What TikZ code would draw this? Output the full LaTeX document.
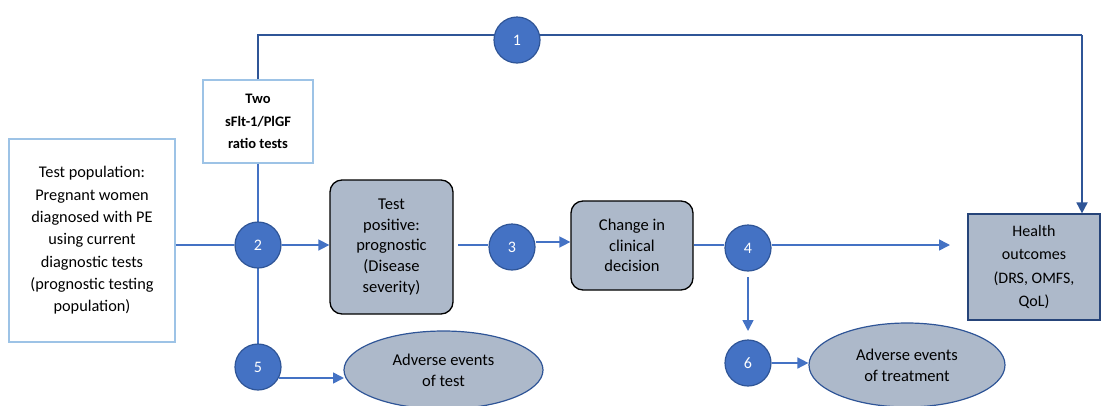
\documentclass[tikz,border=0pt]{standalone}
\usepackage{fontspec}
\setmainfont{Carlito}
\usetikzlibrary{arrows.meta,shapes.geometric}
\definecolor{cblue}{HTML}{4472C4}
\definecolor{dblue}{HTML}{2F5597}
\definecolor{lblue}{HTML}{9DC3E6}
\definecolor{gfill}{HTML}{ADB9CA}
\begin{document}
\begin{tikzpicture}[x=1pt,y=-1pt,
  every node/.style={font=\fontsize{16.5}{20.7}\selectfont, text=black},
  num/.style={circle, fill=cblue, draw=dblue, line width=1.2pt, minimum size=46pt, inner sep=0pt, text=white, font=\fontsize{16}{18}\selectfont},
  plainbox/.style={draw=lblue, line width=1.3pt, fill=white, align=center, inner sep=0pt},
  grey/.style={draw=black, line width=1.3pt, fill=gfill, rounded corners=12pt, align=center, inner sep=0pt},
  outbox/.style={draw=dblue!80!black, line width=1.2pt, fill=gfill, align=center, inner sep=0pt},
  oval/.style={ellipse, draw=dblue, line width=1.2pt, fill=gfill, align=center, inner sep=0pt},
  conn/.style={draw=cblue, line width=1.6pt},
  arr/.style={conn, -{Triangle[length=11pt,width=11pt]}},
  darr/.style={draw=dblue, line width=1.8pt, -{Triangle[length=11pt,width=11pt]}}
]
\useasboundingbox (0,0) rectangle (1101,405);

\node[plainbox, minimum width=166pt, minimum height=203pt, font=\fontsize{16.3}{22.3}\selectfont] (pop) at (92,240.5)
  {Test population:\\Pregnant women\\diagnosed with PE\\using current\\diagnostic tests\\(prognostic testing\\population)};
\node[plainbox, minimum width=110pt, minimum height=83pt, font=\bfseries\fontsize{14.5}{22.5}\selectfont] (two) at (258,121.5)
  {Two\\sFlt-1/PlGF\\ratio tests};
\node[grey, minimum width=123pt, minimum height=134pt] (pos) at (391.5,247)
  {Test\\positive:\\prognostic\\(Disease\\severity)};
\node[grey, minimum width=122pt, minimum height=89pt] (chg) at (632,245.5)
  {Change in\\clinical\\decision};
\node[outbox, minimum width=132pt, minimum height=106pt, font=\fontsize{16}{23.3}\selectfont] (hlth) at (1034,267)
  {Health\\outcomes\\(DRS, OMFS,\\QoL)};
\node[oval, minimum width=199pt, minimum height=78pt] (ae1) at (443.5,370)
  {Adverse events\\of test};
\node[oval, minimum width=196pt, minimum height=84pt] (ae2) at (907,365)
  {Adverse events\\of treatment};

\coordinate (tl) at (258,35);
\coordinate (tr) at (1082,35);
\coordinate (p3in) at (458,245);
\coordinate (h4) at (950,245);
\coordinate (d4a) at (748,277);
\coordinate (d4b) at (748,331);
\coordinate (a5s) at (279,378);
\coordinate (a5e) at (344,378);

% top line
\draw[dblue, line width=1.8pt] (two.north) -- (tl) -- (tr);
\draw[darr] (tr) -- (tr |- hlth.north);
% vertical through 2 to 5
\draw[conn] (two.south) -- (258,368);
\node[num] (n1) at (517,40) {1};
\node[num] (n2) at (258,245) {2};
\node[num] (n5) at (258,367) {5};
\node[num] (n3) at (512,247) {3};
\node[num] (n4) at (748,248) {4};
\node[num] (n6) at (748,363) {6};

\draw[conn] (pop.east |- n2) -- (n2.west);
\draw[arr] (n2.east) -- (pos.west |- n2);
\draw[conn] (p3in) -- (n3.west |- p3in);
\draw[arr] (n3.east |- 0,242) -- (chg.west |- 0,242);
\draw[conn] (chg.east |- 0,245) -- (n4.west |- 0,245);
\draw[arr] (n4.east |- 0,245) -- (h4);
\draw[arr] (d4a) -- (d4b);
\draw[arr] (n6.east) -- (ae2.west |- n6);
\draw[arr] (a5s) -- (a5e);
\end{tikzpicture}
\end{document}
